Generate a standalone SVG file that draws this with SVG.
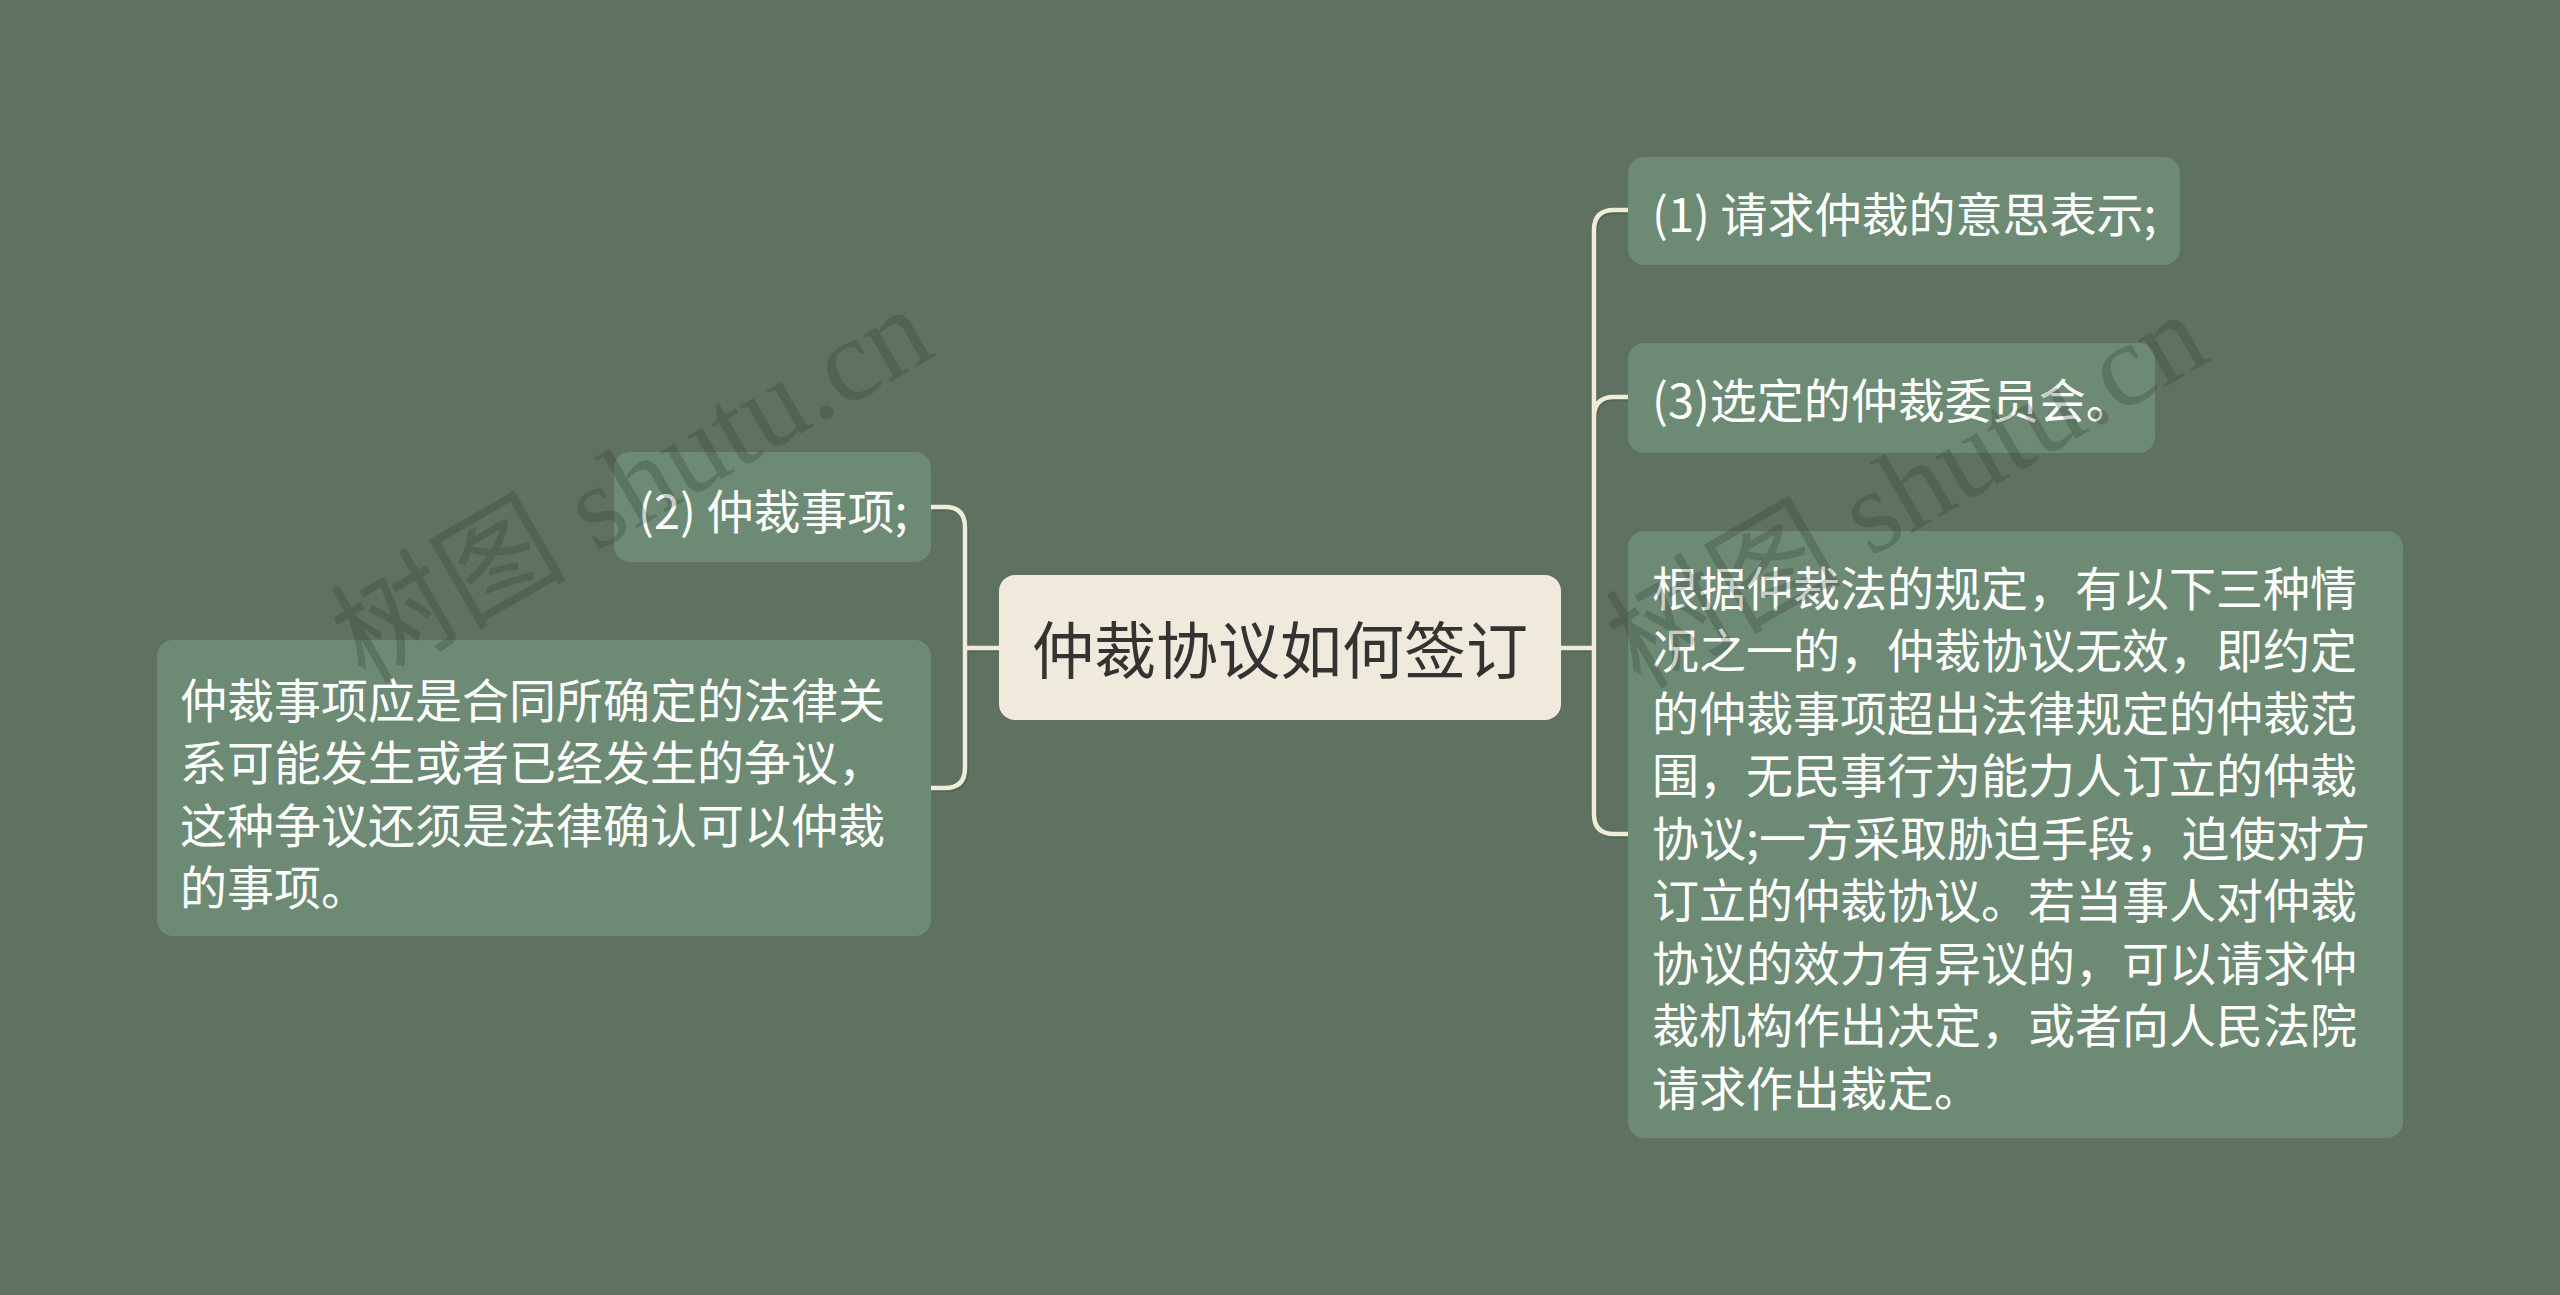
<svg xmlns="http://www.w3.org/2000/svg" width="2560" height="1295" viewBox="0 0 2560 1295">
<defs>
<style>
.bg{fill:#5f7261}
.node{fill:#6d8a74}
.root{fill:#efeadb}
.t{font-family:"Noto Sans CJK SC","Noto Sans",sans-serif;font-size:47px;fill:#ffffff;dominant-baseline:central}
.rt{font-family:"Noto Sans CJK SC","Noto Sans",sans-serif;font-size:62px;fill:#333333;dominant-baseline:central;text-anchor:middle}
.conn{fill:none;stroke:#f1ecd9;stroke-width:4.5;stroke-linecap:round}
.shadow{fill:none;stroke:#3e4c41;stroke-opacity:0.35;stroke-width:4.5}
.wm{font-family:"Liberation Serif","Noto Sans CJK SC",serif;font-size:118px;fill:#2e3b31;fill-opacity:0.26}
</style>
</defs>
<rect class="bg" x="0" y="0" width="2560" height="1295"/>

<g id="connectors">
<path class="shadow" transform="translate(1.5,2)" d="M931,507 H945 Q965,507 965,527 V768 Q965,788 945,788 H931 M965,648 H999"/>
<path class="shadow" transform="translate(1.5,2)" d="M1628,210 H1614 Q1594,210 1594,230 V814 Q1594,834 1614,834 H1628 M1594,417 Q1594,397 1614,397 H1628 M1561,648 H1594"/>
<path class="conn" d="M931,507 H945 Q965,507 965,527 V768 Q965,788 945,788 H931 M965,648 H999"/>
<path class="conn" d="M1628,210 H1614 Q1594,210 1594,230 V814 Q1594,834 1614,834 H1628 M1594,417 Q1594,397 1614,397 H1628 M1561,648 H1594"/>
</g>

<g id="root">
<rect class="root" x="999" y="575" width="562" height="145" rx="16"/>
<text class="rt" x="1280" y="647">仲裁协议如何签订</text>
</g>

<g id="left1">
<rect class="node" x="614" y="452" width="317" height="110" rx="16"/>
<text class="t" x="638" y="508">(2) 仲裁事项;</text>
</g>

<g id="left2">
<rect class="node" x="157" y="640" width="774" height="296" rx="16"/>
<text class="t" x="180" y="697">仲裁事项应是合同所确定的法律关</text>
<text class="t" x="180" y="759.5">系可能发生或者已经发生的争议，</text>
<text class="t" x="180" y="822">这种争议还须是法律确认可以仲裁</text>
<text class="t" x="180" y="884.5">的事项。</text>
</g>

<g id="right1">
<rect class="node" x="1628" y="157" width="552" height="108" rx="16"/>
<text class="t" x="1652" y="211">(1) 请求仲裁的意思表示;</text>
</g>

<g id="right2">
<rect class="node" x="1628" y="343" width="527" height="110" rx="16"/>
<text class="t" x="1652" y="397">(3)选定的仲裁委员会。</text>
</g>

<g id="right3">
<rect class="node" x="1628" y="531" width="775" height="607" rx="16"/>
<text class="t" x="1652" y="585">根据仲裁法的规定，有以下三种情</text>
<text class="t" x="1652" y="647.5">况之一的，仲裁协议无效，即约定</text>
<text class="t" x="1652" y="710">的仲裁事项超出法律规定的仲裁范</text>
<text class="t" x="1652" y="772.5">围，无民事行为能力人订立的仲裁</text>
<text class="t" x="1652" y="835">协议;一方采取胁迫手段，迫使对方</text>
<text class="t" x="1652" y="897.5">订立的仲裁协议。若当事人对仲裁</text>
<text class="t" x="1652" y="960">协议的效力有异议的，可以请求仲</text>
<text class="t" x="1652" y="1022.5">裁机构作出决定，或者向人民法院</text>
<text class="t" x="1652" y="1085">请求作出裁定。</text>
</g>

<g id="watermarks">
<text class="wm" transform="translate(365,685) rotate(-30)">树图 shutu.cn</text>
<text class="wm" transform="translate(1640,690) rotate(-30)">树图 shutu.cn</text>
</g>
</svg>
